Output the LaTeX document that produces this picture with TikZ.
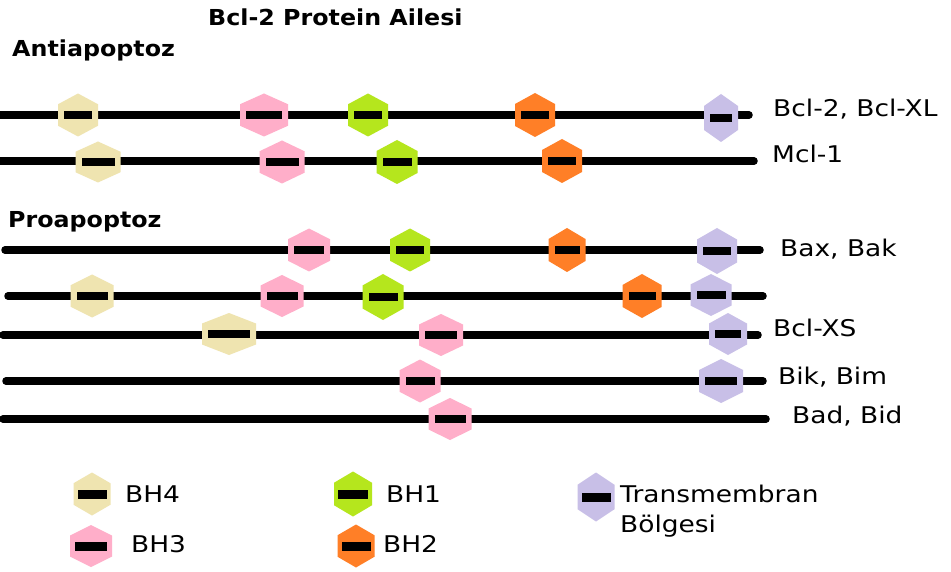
\documentclass[tikz,border=0pt]{standalone}
\usepackage{fontspec}
\newfontfamily\lblfont[FakeStretch=1.15]{DejaVu Sans}
\newfontfamily\hdfont[FakeStretch=1.08]{DejaVu Sans}
\definecolor{cTan}{HTML}{EFE4B0}
\definecolor{cPink}{HTML}{FFAEC9}
\definecolor{cGreen}{HTML}{B5E61D}
\definecolor{cOrange}{HTML}{FF7F27}
\definecolor{cPurple}{HTML}{C8BFE7}
% #1 bar thickness, #2 x, #3 y, #4 width, #5 height, #6 colour, #7 bar margin
\newcommand{\hexshape}[7][7.5]{%
  \fill[#6] (#2,#3) +(0,{-#5/2}) -- +({#4/2},{-#5/4}) -- +({#4/2},{#5/4}) -- +(0,{#5/2}) -- +({-#4/2},{#5/4}) -- +({-#4/2},{-#5/4}) -- cycle;
  \fill[black] (#2,#3) +({-#4/2+#7},{-#1/2}) rectangle +({#4/2-#7},{#1/2});
}
\tikzset{
  protline/.style={line width=7.5pt, line cap=round, black},
  lbl/.style={anchor=base west, inner sep=0pt, font=\lblfont\fontsize{23}{27}\selectfont},
  hd/.style={anchor=base west, inner sep=0pt, font=\hdfont\bfseries\fontsize{22}{26}\selectfont}
}
\begin{document}
\begin{tikzpicture}[x=1pt,y=-1pt]
\useasboundingbox[fill=white] (0,0) rectangle (951,572);
\clip (0,0) rectangle (951,572);

% headings
\node[hd] (title) at (208,26) {Bcl-2 Protein Ailesi};
\node[hd] (anti) at (12,57) {Antiapoptoz};
\node[hd] (pro) at (8,228) {Proapoptoz};

% row 1: Bcl-2, Bcl-XL
\draw[protline] (-10,115) -- (749,115);
\hexshape{78}{115}{40}{43}{cTan}{6}
\hexshape{264}{115}{48}{43}{cPink}{6}
\hexshape{368}{115}{40}{43}{cGreen}{6}
\hexshape{535}{115}{40}{44}{cOrange}{6}
\hexshape{721}{118}{34}{48}{cPurple}{6}
\node[lbl] (r1) at (773,117) {Bcl-2, Bcl-XL};

% row 2: Mcl-1
\draw[protline] (-10,161) -- (754,161);
\hexshape{98}{162}{45}{41}{cTan}{6}
\hexshape{282}{162}{45}{43}{cPink}{6}
\hexshape{397}{162}{41}{44}{cGreen}{6}
\hexshape{562}{161}{40}{44}{cOrange}{6}
\node[lbl] (r2) at (772,163) {Mcl-1};

% row 3: Bax, Bak
\draw[protline] (5,250) -- (760,250);
\hexshape{309}{250}{42}{43}{cPink}{6}
\hexshape{410}{250}{40}{43}{cGreen}{6}
\hexshape{567}{250}{37}{44}{cOrange}{6}
\hexshape{717}{251}{40}{46}{cPurple}{6}
\node[lbl] (r3) at (780,257) {Bax, Bak};

% row 4
\draw[protline] (8,296) -- (763,296);
\hexshape{92}{296}{43}{43}{cTan}{6}
\hexshape{282}{296}{43}{42}{cPink}{6}
\hexshape{383}{297}{41}{46}{cGreen}{6}
\hexshape{642}{296}{39}{44}{cOrange}{6}
\hexshape{711}{295}{41}{42}{cPurple}{6}

% row 5: Bcl-XS
\draw[protline] (3,335) -- (758,335);
\hexshape{229}{334}{54}{42}{cTan}{6}
\hexshape{441}{335}{44}{42}{cPink}{6}
\hexshape{728}{334}{38}{42}{cPurple}{6}
\node[lbl] (r5) at (773,337) {Bcl-XS};

% row 6: Bik, Bim
\draw[protline] (6,381) -- (763,381);
\hexshape{420}{381}{41}{43}{cPink}{6}
\hexshape{721}{381}{44}{44}{cPurple}{6}
\node[lbl] (r6) at (778,384) {Bik, Bim};

% row 7: Bad, Bid
\draw[protline] (3,419) -- (766,419);
\hexshape{450}{419}{43}{42}{cPink}{6}
\node[lbl] (r7) at (792,423) {Bad, Bid};

% legend
\hexshape[9]{92}{494}{37}{43}{cTan}{4}
\node[lbl] (l4) at (125,502) {BH4};
\hexshape[9]{91}{546}{42}{42}{cPink}{5}
\node[lbl] (l3) at (131,552) {BH3};
\hexshape[9]{353}{494}{38}{45}{cGreen}{4}
\node[lbl] (l1) at (386,502) {BH1};
\hexshape[9]{356}{546}{37}{43}{cOrange}{4}
\node[lbl] (l2) at (383,552) {BH2};
\hexshape[9]{596}{497}{37}{49}{cPurple}{4}
\node[lbl] (lt) at (620,502) {Transmembran};
\node[lbl] (lb) at (620,532) {Bölgesi};
\end{tikzpicture}
\end{document}
